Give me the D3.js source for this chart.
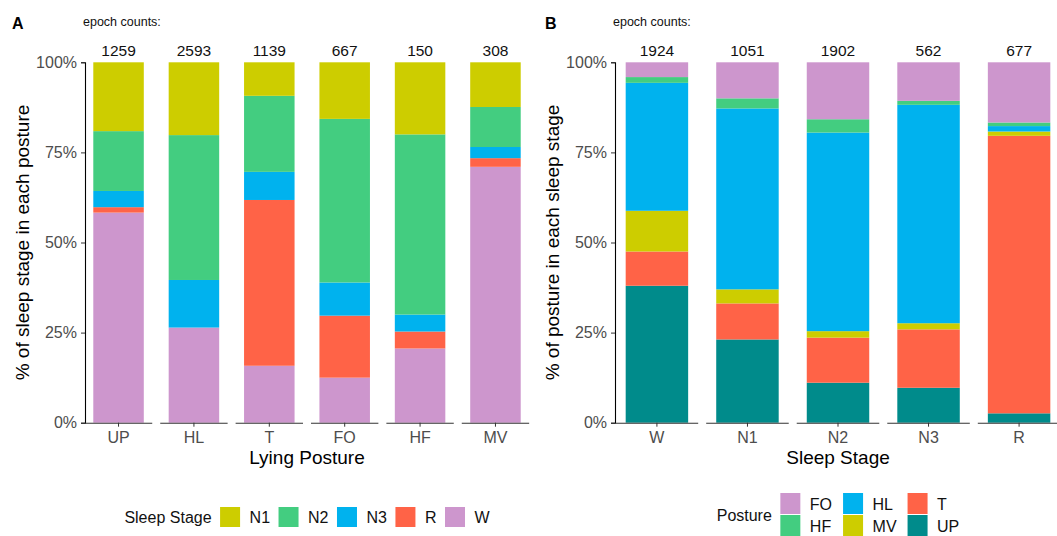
<!DOCTYPE html>
<html>
<head>
<meta charset="utf-8">
<script src="https://cdn.jsdelivr.net/npm/d3@7"></script>
<style>
  html, body { margin: 0; padding: 0; background: #fff; }
  svg { display: block; font-family: "Liberation Sans", Arial, sans-serif; }
</style>
</head>
<body>
<svg id="chart" width="1057" height="536"></svg>
<script>
// ---- Panel A: sleep stage composition within each lying posture ----
const postures = ["UP", "HL", "T", "FO", "HF", "MV"];
const postureCounts = [1259, 2593, 1139, 667, 150, 308];
const stageW  = [58.3, 26.4, 15.8, 12.5, 20.6, 71.0];
const stageR  = [1.5, 0.0, 46.0, 17.2, 4.7, 2.4];
const stageN3 = [4.5, 13.2, 7.8, 9.2, 4.7, 3.1];
const stageN2 = [16.6, 40.2, 21.1, 45.4, 50.0, 11.1];
const stageN1 = [19.1, 20.2, 9.3, 15.7, 20.0, 12.4];
const stageLegend = ["N1", "N2", "N3", "R", "W"];
const stageStackOrder = ["W", "R", "N3", "N2", "N1"];

// ---- Panel B: posture composition within each sleep stage ----
const sleepStages = ["W", "N1", "N2", "N3", "R"];
const stageCounts = [1924, 1051, 1902, 562, 677];
const postureUP = [38.0, 23.1, 11.1, 9.7, 2.6];
const postureT  = [9.5, 10.0, 12.5, 16.2, 77.0];
const postureMV = [11.3, 3.9, 1.8, 1.7, 1.2];
const postureHL = [35.5, 50.2, 55.1, 60.6, 1.5];
const postureHF = [1.6, 2.8, 3.7, 1.1, 1.0];
const postureFO = [4.1, 10.0, 15.8, 10.7, 16.7];
const postureLegend = ["FO", "HF", "HL", "MV", "T", "UP"];
const postureStackOrder = ["UP", "T", "MV", "HL", "HF", "FO"];

const yTicks = [0, 25, 50, 75, 100];

// shared palette
const palette = {
  N1: "#CDCD00", N2: "#43CD80", N3: "#00B2EE", R: "#FF6347", W: "#CD96CD",
  FO: "#CD96CD", HF: "#43CD80", HL: "#00B2EE", MV: "#CDCD00", T: "#FF6347", UP: "#008B8B"
};

const svg = d3.select("#chart");
const TOP = 62.3, BOTTOM = 422.7;
const y = d3.scaleLinear().domain([0, 100]).range([BOTTOM, TOP]);

function panel(opts) {
  const g = svg.append("g");
  const rows = opts.categories.map((c, i) => {
    const r = { cat: c };
    opts.keys.forEach(k => { r[k] = opts.series[k][i]; });
    return r;
  });
  const x = d3.scaleBand().domain(opts.categories)
    .range([opts.left, opts.right])
    .paddingInner(opts.padIn).paddingOuter(opts.padOut);

  const stacked = d3.stack().keys(opts.keys)(rows);
  g.selectAll("g.layer").data(stacked).join("g")
    .attr("class", "layer")
    .attr("fill", d => palette[d.key])
    .selectAll("rect").data(d => d).join("rect")
      .attr("x", d => x(d.data.cat))
      .attr("width", x.bandwidth())
      .attr("y", d => y(d[1]))
      .attr("height", d => y(d[0]) - y(d[1]));

  // y axis
  const ya = g.append("g").attr("transform", `translate(${opts.left},0)`)
    .call(d3.axisLeft(y).tickValues(yTicks).tickFormat(d => d + "%").tickSize(4).tickPadding(4));
  ya.select(".domain").attr("stroke", "#000").attr("stroke-width", 1.1);
  ya.selectAll(".tick line").attr("stroke", "#333");
  ya.selectAll(".tick text").attr("fill", "#4D4D4D").style("font-size", "16px")
    .style("font-family", "'Liberation Sans', Arial, sans-serif");

  // x axis: one baseline segment per category
  const xa = g.append("g").attr("transform", `translate(0,${BOTTOM})`)
    .call(d3.axisBottom(x).tickSize(4).tickPadding(5));
  xa.select(".domain").remove();
  xa.selectAll(".tick line").attr("stroke", "#333");
  xa.selectAll(".tick text").attr("fill", "#4D4D4D").style("font-size", "16px")
    .style("font-family", "'Liberation Sans', Arial, sans-serif");
  const segW = x.step() - 8;
  g.selectAll("line.seg").data(opts.categories).join("line")
    .attr("class", "seg")
    .attr("x1", d => x(d) + x.bandwidth() / 2 - segW / 2)
    .attr("x2", d => x(d) + x.bandwidth() / 2 + segW / 2)
    .attr("y1", BOTTOM + 0.5).attr("y2", BOTTOM + 0.5)
    .attr("stroke", "#333").attr("stroke-width", 1.1);

  // epoch counts above bars
  g.selectAll("text.count").data(opts.counts).join("text")
    .attr("class", "count")
    .attr("x", (d, i) => x(opts.categories[i]) + x.bandwidth() / 2)
    .attr("y", 56)
    .attr("text-anchor", "middle")
    .style("font-size", "15.5px").attr("fill", "#111")
    .text(d => d);
  g.append("text").attr("x", opts.left - 2).attr("y", 26)
    .style("font-size", "12.5px").attr("fill", "#111").text("epoch counts:");

  // panel tag
  g.append("text").attr("x", opts.tagX).attr("y", 29)
    .style("font-size", "16px").style("font-weight", "bold").attr("fill", "#000").text(opts.tag);

  // axis titles
  const cx = (opts.left + opts.right) / 2;
  g.append("text").attr("x", cx).attr("y", 464)
    .attr("text-anchor", "middle").style("font-size", "19px").attr("fill", "#000")
    .text(opts.xTitle);
  g.append("text")
    .attr("transform", `translate(${opts.left - 56},${(TOP + BOTTOM) / 2}) rotate(-90)`)
    .attr("text-anchor", "middle").style("font-size", "19px").attr("fill", "#000")
    .text(opts.yTitle);

  // legend
  const lg = g.append("g");
  const title = lg.append("text").style("font-size", "16px").attr("fill", "#111").text(opts.legendTitle);
  const titleW = title.node().getComputedTextLength();
  const nrow = opts.legendRows;
  const ncol = Math.ceil(opts.legend.length / nrow);
  const key = 20, keyH = nrow > 1 ? 21 : 20;
  // measure labels
  const tmp = lg.append("text").style("font-size", "16px");
  const widths = opts.legend.map(l => { tmp.text(l); return tmp.node().getComputedTextLength(); });
  tmp.remove();
  const cols = d3.range(ncol).map(c => opts.legend.slice(c * nrow, c * nrow + nrow));
  const colW = cols.map((col, c) => key + 9.5 + d3.max(col, (l, j) => widths[c * nrow + j]) + (nrow > 1 ? 11 : 8.5));
  const totalW = titleW + 8.5 + d3.sum(colW) - (nrow > 1 ? 11 : 8.5);
  const lx = cx - totalW / 2;
  const blockH = nrow * keyH + (nrow - 1) * 1;
  const ly = opts.legendMid - blockH / 2;
  title.attr("x", lx).attr("y", opts.legendMid + 6);
  let colX = lx + titleW + 8.5;
  cols.forEach((col, c) => {
    col.forEach((l, j) => {
      const ky = ly + j * (keyH + 1);
      lg.append("rect").attr("x", colX).attr("y", ky).attr("width", key).attr("height", keyH)
        .attr("fill", palette[l]);
      lg.append("text").attr("x", colX + key + 9.5).attr("y", ky + keyH / 2 + 6)
        .style("font-size", "16px").attr("fill", "#111").text(l);
    });
    colX += colW[c];
  });
}

panel({
  categories: postures, counts: postureCounts,
  keys: stageStackOrder,
  series: { W: stageW, R: stageR, N3: stageN3, N2: stageN2, N1: stageN1 },
  left: 85, right: 529, padIn: 0.33, padOut: 0.11,
  tag: "A", tagX: 12,
  xTitle: "Lying Posture", yTitle: "% of sleep stage in each posture",
  legend: stageLegend, legendTitle: "Sleep Stage", legendRows: 1, legendMid: 517
});

panel({
  categories: sleepStages, counts: stageCounts,
  keys: postureStackOrder,
  series: { UP: postureUP, T: postureT, MV: postureMV, HL: postureHL, HF: postureHF, FO: postureFO },
  left: 615, right: 1061, padIn: 0.31, padOut: 0.118,
  tag: "B", tagX: 545,
  xTitle: "Sleep Stage", yTitle: "% of posture in each sleep stage",
  legend: postureLegend, legendTitle: "Posture", legendRows: 2, legendMid: 514.5
});
</script>
</body>
</html>
